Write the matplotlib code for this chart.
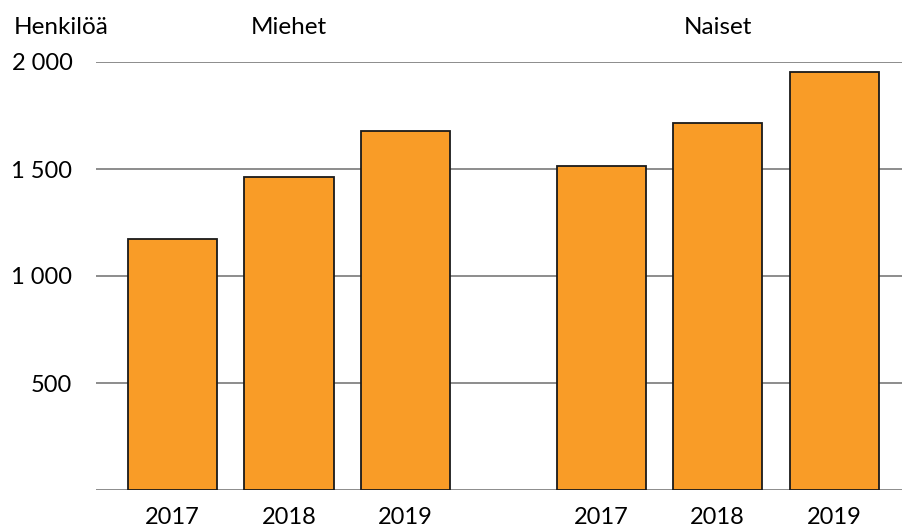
import numpy as np
import matplotlib
matplotlib.use("Agg")
import matplotlib.pyplot as plt

plt.rcParams['font.family'] = ['Lato', 'DejaVu Sans']

years = ['2017', '2018', '2019']
groups = ['Miehet', 'Naiset']
miehet = [1173, 1463, 1678]
naiset = [1514, 1715, 1952]
yticks = [500, 1000, 1500, 2000]
ytick_labels = ['500', '1 000', '1 500', '2 000']

bar_color = '#F99C27'
grid_color = '#8C8C8C'

fig = plt.figure(figsize=(9.02, 5.29), dpi=100)
ax = fig.add_axes([96 / 902, 1 - 490 / 529, 1 - 96 / 902, (490 - 62) / 529])

# second group is shifted by a bit more than one slot
x1 = np.arange(3)
x2 = np.arange(3) + 3.68
width = 0.765

ax.set_axisbelow(True)
for y in yticks:
    ax.axhline(y, color=grid_color, lw=1.4, zorder=0)
ax.axhline(0, color=grid_color, lw=1.4, zorder=0)

ax.bar(x1, miehet, width, color=bar_color, edgecolor='#1a1a1a', lw=1.3, zorder=2)
ax.bar(x2, naiset, width, color=bar_color, edgecolor='#1a1a1a', lw=1.3, zorder=2)

ax.set_xlim(-0.657, 6.262)
ax.set_ylim(0, 2000)

ax.set_xticks(np.concatenate([x1, x2]))
ax.set_xticklabels(years + years)
ax.set_yticks(yticks)
ax.set_yticklabels(ytick_labels)
ax.tick_params(length=0, labelsize=17, colors='black')
ax.tick_params(axis='x', pad=12)
ax.tick_params(axis='y', pad=17)

for s in ax.spines.values():
    s.set_visible(False)

fig.text(14 / 902, 1 - 27 / 529, 'Henkilöä', fontsize=17.5, ha='left', va='center')
ax.text(x1[1], 2163, groups[0], fontsize=17.5, ha='center', va='center')
ax.text(x2[1], 2163, groups[1], fontsize=17.5, ha='center', va='center')

fig.savefig('out.png', dpi=100)
